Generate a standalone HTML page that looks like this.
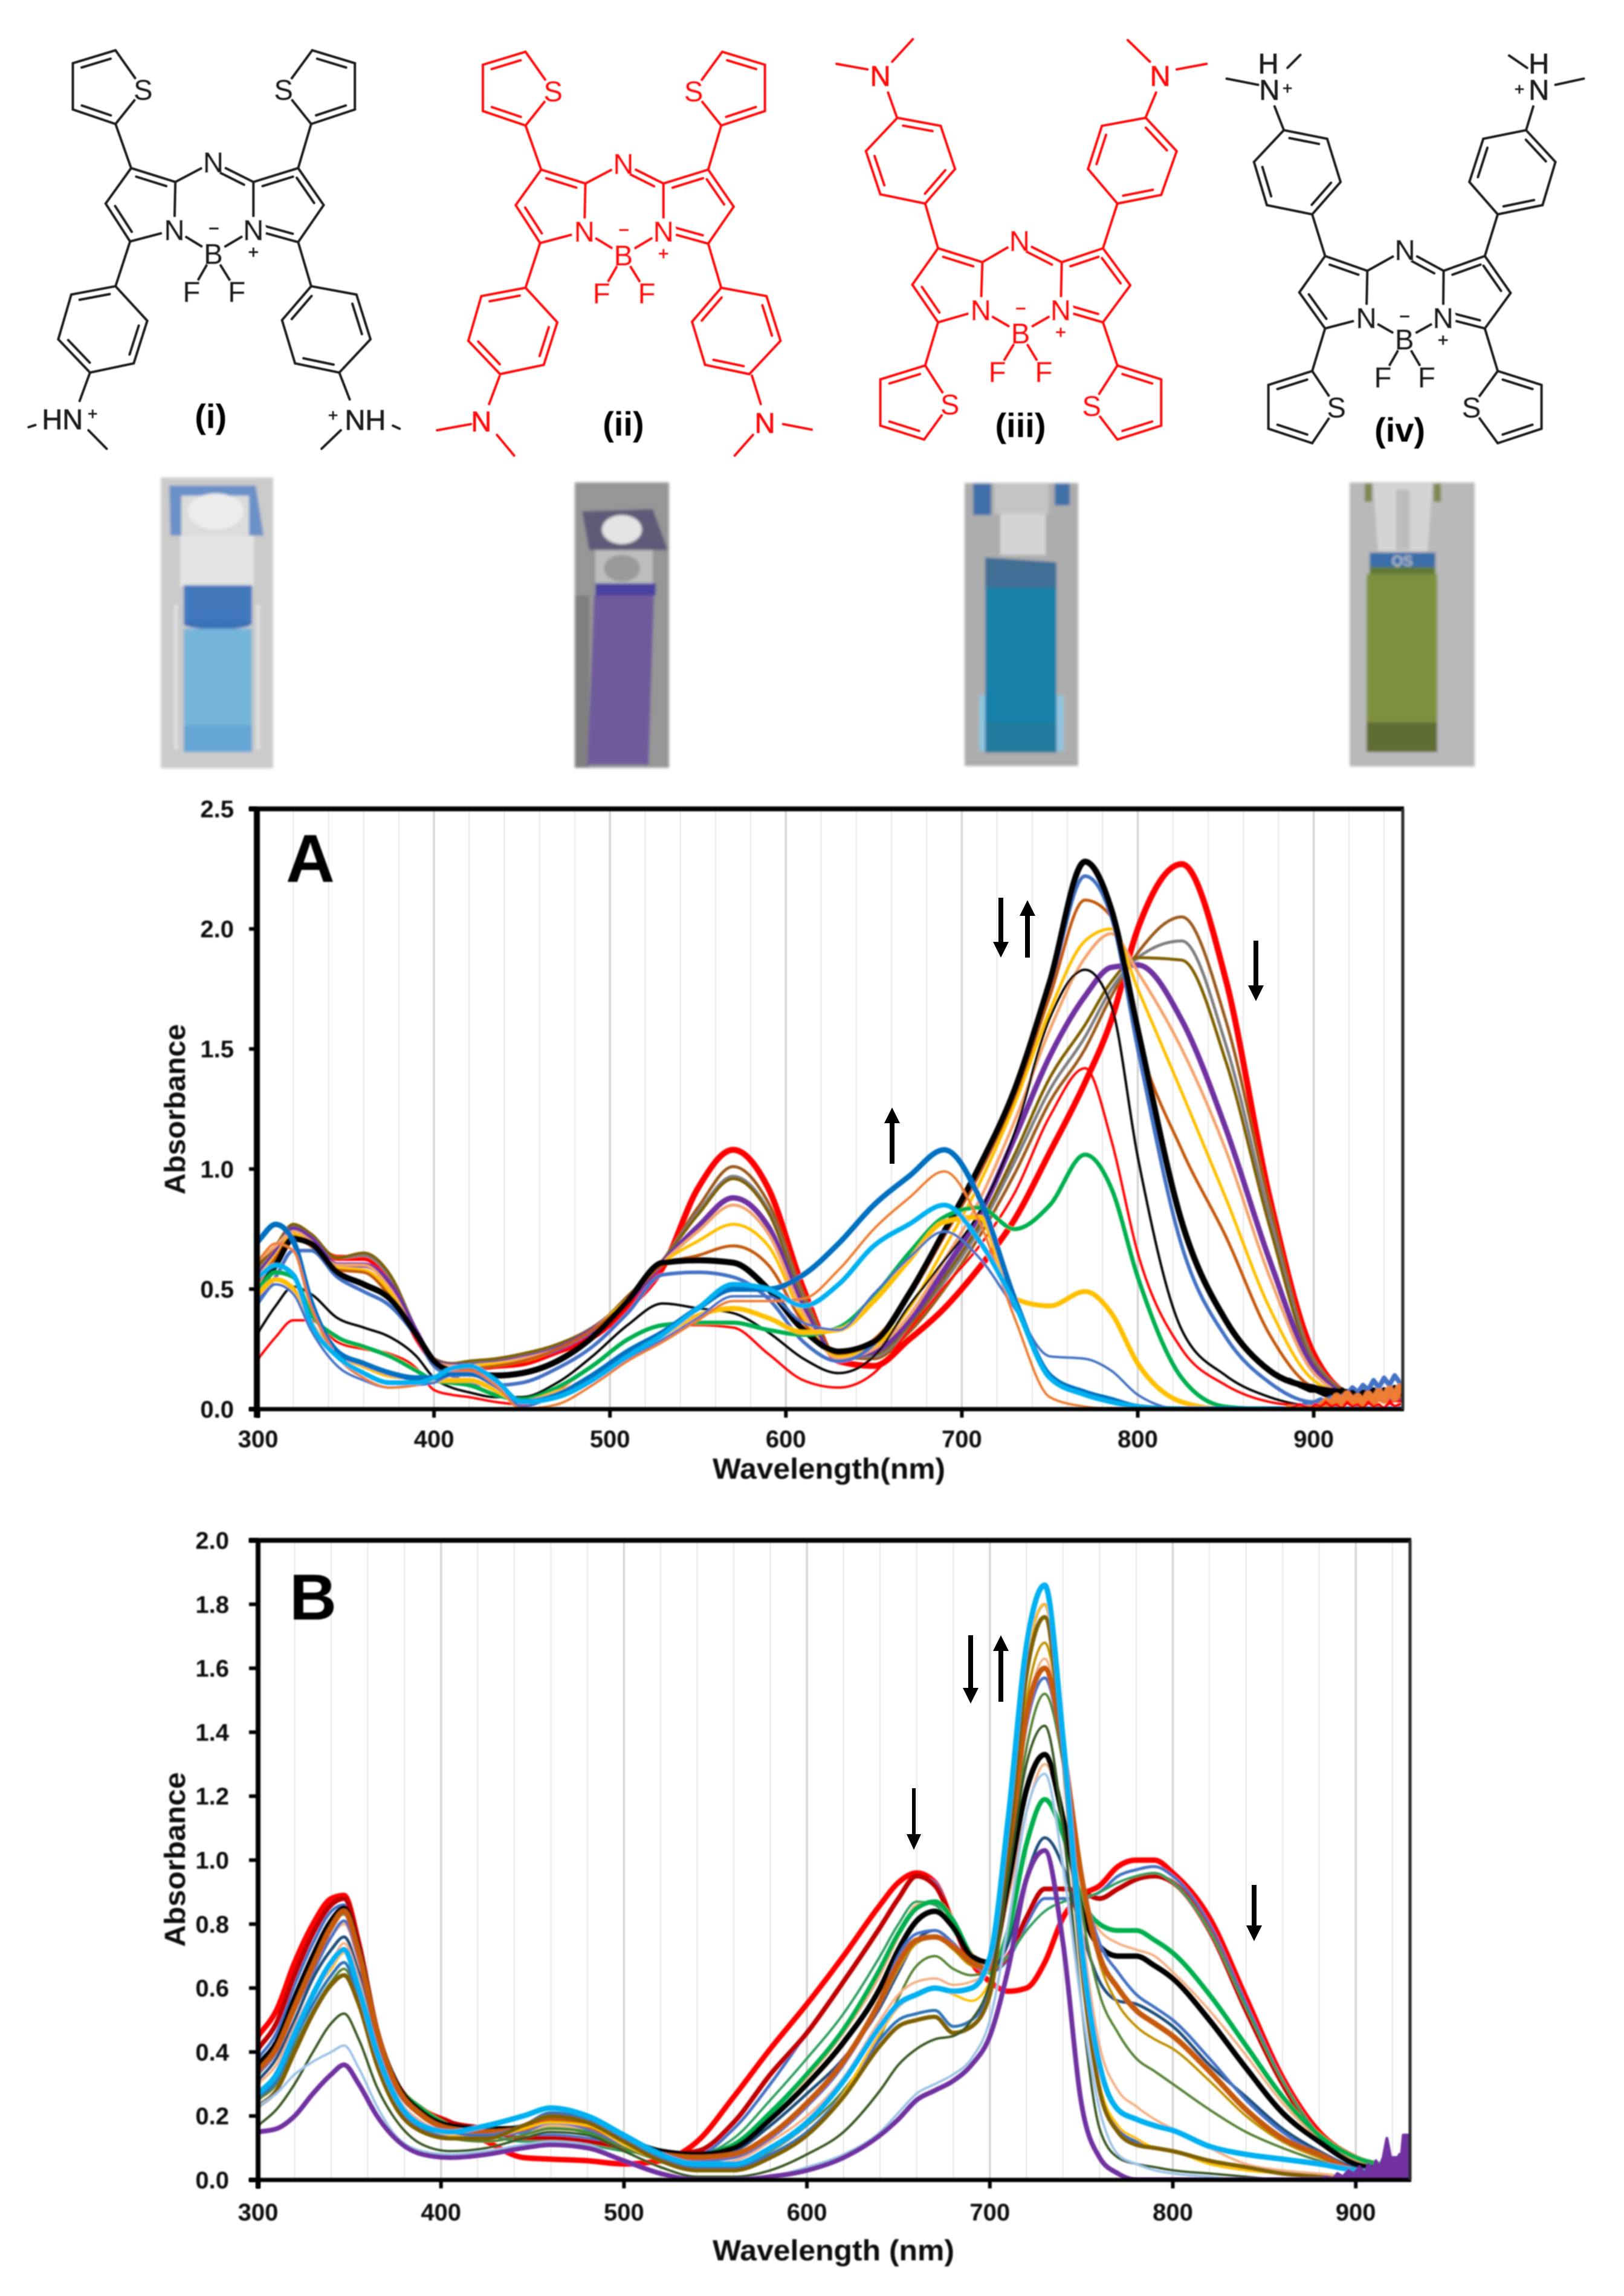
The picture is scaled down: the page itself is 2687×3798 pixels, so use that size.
<!DOCTYPE html>
<html lang="en">
<head>
<meta charset="utf-8">
<title>Aza-BODIPY structures and absorbance spectra</title>
<style>
html,body{margin:0;padding:0;background:#fff;width:2687px;height:3798px;overflow:hidden}
svg{display:block;font-family:"Liberation Sans",Arial,sans-serif}
</style>
</head>
<body>
<svg id="figure" width="2687" height="3798" viewBox="0 0 2687 3798">
<defs>
<filter id="soft" x="-5%" y="-5%" width="110%" height="110%"><feGaussianBlur stdDeviation="1"/></filter>
<filter id="fine" x="-5%" y="-5%" width="110%" height="110%"><feGaussianBlur stdDeviation="0.7"/></filter>
<filter id="softer" x="-5%" y="-5%" width="110%" height="110%"><feGaussianBlur stdDeviation="2.5"/></filter>
<clipPath id="clipA"><rect x="425" y="1338" width="1896" height="993"/></clipPath>
<clipPath id="clipB"><rect x="427" y="2548" width="1906" height="1058"/></clipPath>
</defs>
<rect width="2687" height="3798" fill="#fff"/>

<g id="molecules" filter="url(#fine)"></g>

<g filter="url(#softer)">
 <g>
  <rect x="266" y="790" width="186" height="481" fill="#cbcbcb"/>
  <polygon points="280,803 423,803 436,886 282,886" fill="#6c90c8"/>
  <rect x="300" y="820" width="112" height="66" fill="#dcdcdc"/>
  <ellipse cx="357" cy="846" rx="46" ry="30" fill="#ececec"/>
  <rect x="298" y="886" width="122" height="84" fill="#e4e4e4"/>
  <rect x="304" y="968" width="113" height="64" fill="#4279bd"/>
  <ellipse cx="360" cy="1032" rx="56" ry="9" fill="#3a72b8"/>
  <rect x="304" y="1040" width="113" height="160" fill="#74b5d9"/>
  <rect x="304" y="1200" width="113" height="44" fill="#66a6d6"/>
  <rect x="288" y="1000" width="6" height="240" fill="#e0e0e0"/>
  <rect x="424" y="1000" width="6" height="240" fill="#e0e0e0"/>
 </g>
 <g>
  <rect x="951" y="798" width="156" height="472" fill="#969696"/>
  <rect x="951" y="985" width="24" height="285" fill="#7f7f7f"/>
  <polygon points="963,846 1080,842 1105,910 975,910" fill="#5e5a78"/>
  <ellipse cx="1029" cy="876" rx="33" ry="24" fill="#e4e4e4"/>
  <rect x="985" y="910" width="95" height="55" fill="#bdbdbd"/>
  <ellipse cx="1029" cy="940" rx="30" ry="22" fill="#9a9a9a"/>
  <rect x="985" y="965" width="100" height="20" fill="#4a3f9f"/>
  <polygon points="983,985 1082,985 1073,1265 972,1265" fill="#6f5a9c"/>
 </g>
 <g>
  <rect x="1596" y="799" width="188" height="468" fill="#adadad"/>
  <rect x="1610" y="800" width="30" height="52" fill="#3f6fa8"/>
  <rect x="1745" y="800" width="25" height="36" fill="#3f6fa8"/>
  <rect x="1645" y="800" width="90" height="50" fill="#c4c4c4"/>
  <rect x="1655" y="850" width="75" height="68" fill="#d4d4d4"/>
  <rect x="1620" y="1150" width="140" height="92" fill="#8fc5de"/>
  <polygon points="1630,922 1748,930 1748,975 1630,975" fill="#3f6e95"/>
  <rect x="1630" y="972" width="118" height="225" fill="#1880a8"/>
  <rect x="1630" y="1195" width="118" height="50" fill="#237a9c"/>
 </g>
 <g>
  <rect x="2233" y="798" width="207" height="470" fill="#b9b9b9"/>
  <rect x="2258" y="800" width="12" height="30" fill="#7c8a50"/>
  <rect x="2372" y="800" width="12" height="30" fill="#7c8a50"/>
  <polygon points="2272,800 2370,800 2362,912 2280,912" fill="#d4d4d4"/>
  <rect x="2310" y="810" width="22" height="100" fill="#bcbcbc"/>
  <rect x="2266" y="914" width="109" height="26" fill="#3a6ea8"/>
  <text x="2320" y="936" font-size="24" fill="#d8d8d8" text-anchor="middle">QS</text>
  <rect x="2266" y="938" width="109" height="14" fill="#5f7a30"/>
  <rect x="2261" y="950" width="117" height="245" fill="#7f9140"/>
  <rect x="2261" y="1195" width="117" height="49" fill="#5f6c30"/>
 </g>
</g>

<g id="chartA"></g>
<g id="chartB"></g>

<g fill="#000">
 <path d="M1652 1485H1660V1558H1669L1656 1584L1643 1558H1652Z"/>
 <path d="M1696 1584H1704V1515H1713L1700 1489L1687 1515H1696Z"/>
 <path d="M2074 1556H2082V1630H2091L2078 1656L2065 1630H2074Z"/>
 <path d="M1472 1925H1480V1858H1489L1476 1832L1463 1858H1472Z"/>
</g>
<g fill="#000">
 <path d="M1602 2705H1610V2792H1619L1606 2818L1593 2792H1602Z"/>
 <path d="M1652 2815H1660V2731H1669L1656 2705L1643 2731H1652Z"/>
 <path d="M1509 2958H1515V3034H1524L1512 3060L1500 3034H1509Z"/>
 <path d="M2071 3118H2079V3185H2088L2075 3211L2062 3185H2071Z"/>
</g>
</svg>

<script>
/* ---------- Chart A data ---------- */
const wavelengthsA=[300,310,320,330,345,360,375,390,400,410,420,435,450,470,490,510,530,550,570,590,610,630,650,670,690,710,730,750,770,785,800,825,850,875,900,925,950];
const aRedThick=[.57,.66,.74,.70,.63,.63,.53,.30,.20,.17,.17,.18,.19,.24,.30,.42,.59,.92,1.08,.92,.50,.20,.18,.29,.42,.59,.79,1.07,1.36,1.62,2.00,2.27,1.79,.88,.23,.05,.04];
const aBrown=[.60,.68,.77,.72,.63,.64,.55,.33,.21,.19,.19,.20,.22,.26,.33,.47,.62,.84,1.01,.86,.48,.22,.21,.32,.50,.72,.98,1.28,1.50,1.72,1.90,2.05,1.62,.85,.21,.06,.05];
const aGray=[.58,.66,.76,.72,.63,.64,.55,.33,.21,.19,.19,.20,.22,.26,.33,.46,.62,.82,.97,.83,.46,.22,.22,.34,.53,.75,1.03,1.33,1.55,1.75,1.88,1.95,1.52,.80,.20,.06,.05];
const aOlive=[.60,.68,.77,.73,.63,.65,.56,.33,.21,.19,.20,.21,.23,.27,.34,.46,.62,.81,.96,.82,.45,.23,.23,.35,.55,.77,1.06,1.38,1.60,1.78,1.88,1.87,1.45,.76,.19,.06,.05];
const aPurple=[.56,.65,.75,.71,.60,.60,.52,.32,.20,.18,.18,.19,.21,.25,.33,.45,.61,.76,.88,.76,.42,.22,.24,.37,.58,.81,1.13,1.47,1.72,1.84,1.85,1.62,1.17,.62,.17,.05,.05];
const aLightOrange=[.62,.68,.74,.70,.60,.60,.50,.31,.20,.18,.18,.19,.21,.25,.33,.46,.61,.74,.85,.73,.40,.21,.25,.39,.62,.87,1.20,1.58,1.88,1.98,1.82,1.50,1.08,.55,.15,.05,.05];
const aYellow=[.55,.64,.73,.69,.59,.58,.49,.30,.20,.17,.18,.19,.20,.25,.33,.46,.61,.70,.77,.68,.38,.22,.26,.42,.67,.94,1.27,1.66,1.95,2.00,1.75,1.32,.88,.42,.12,.05,.05];
const aOrangeBrown=[.53,.63,.72,.68,.58,.57,.47,.30,.19,.17,.17,.18,.20,.25,.33,.45,.60,.64,.68,.60,.36,.23,.29,.47,.72,.98,1.30,1.72,2.12,2.05,1.55,1.08,.72,.31,.09,.05,.05];
const aBlue=[.45,.55,.66,.66,.55,.49,.43,.30,.18,.14,.11,.10,.11,.17,.26,.40,.56,.57,.55,.46,.28,.20,.27,.48,.73,1.00,1.32,1.76,2.22,2.05,1.50,.68,.30,.11,.03,.05,.09];
const aBlackThick=[.49,.60,.71,.69,.57,.52,.46,.31,.20,.16,.15,.14,.15,.20,.30,.45,.61,.62,.61,.50,.33,.24,.28,.48,.74,1.01,1.33,1.78,2.28,2.08,1.58,.78,.37,.16,.09,.07,.07];
const aBlackThin=[.32,.43,.51,.48,.38,.34,.30,.22,.13,.09,.07,.05,.05,.11,.22,.35,.44,.42,.40,.32,.21,.15,.22,.43,.62,.82,1.15,1.63,1.83,1.68,1.05,.33,.14,.05,.01,0,0];
const aRedThin=[.21,.30,.37,.37,.28,.25,.23,.17,.08,.06,.05,.03,.02,.08,.18,.29,.35,.35,.34,.23,.12,.09,.15,.33,.51,.68,.90,1.22,1.42,1.12,.65,.25,.10,.03,.01,0,0];
const aGreen=[.50,.57,.55,.40,.30,.26,.22,.16,.12,.11,.10,.06,.04,.09,.18,.29,.35,.36,.36,.33,.31,.34,.47,.65,.80,.84,.75,.85,1.06,.92,.55,.13,.01,0,0,0,0];
const aGold=[.48,.54,.50,.36,.23,.18,.14,.13,.12,.12,.12,.08,.03,.07,.13,.23,.31,.39,.42,.38,.32,.33,.45,.62,.78,.80,.46,.43,.49,.40,.19,.03,0,0,0,0,0];
const aBlueThin=[.44,.52,.48,.33,.18,.12,.09,.10,.11,.14,.14,.10,.01,.06,.12,.21,.29,.38,.47,.47,.36,.33,.48,.63,.74,.63,.42,.22,.21,.16,.06,0,0,0,0,0,0];
const aBlueThick=[.70,.77,.70,.45,.24,.19,.15,.13,.13,.15,.15,.10,.03,.06,.14,.24,.32,.42,.50,.50,.56,.69,.85,.97,1.08,.88,.46,.14,.07,.04,.01,0,0,0,0,0,0];
const aOrange=[.62,.69,.66,.43,.22,.13,.09,.10,.13,.16,.16,.10,0,.02,.10,.20,.28,.37,.45,.45,.46,.58,.75,.88,.99,.78,.38,.05,.01,0,0,0,0,0,0,0,0];
const aCyan=[.55,.60,.56,.36,.22,.15,.11,.11,.13,.17,.18,.12,.03,.05,.12,.22,.31,.42,.52,.50,.43,.52,.68,.77,.85,.70,.44,.13,.06,.03,.01,0,0,0,0,0,0];
const tailWavelengthsA=[886,889,892,895,898,901,904,907,910,913,916,919,922,925,928,931,934,937,940,943,946,949];
const aTailBlue=[0,.01,.01,.02,.01,.03,.04,.03,.06,.05,.07,.06,.09,.07,.10,.08,.12,.09,.13,.10,.14,.11];
const aTailBlack=[.12,.11,.10,.09,.08,.08,.07,.06,.07,.06,.08,.06,.07,.05,.07,.06,.08,.06,.08,.07,.09,.07];
const aTailOrange=[0,0,0,0,0,0,.01,.03,.02,.05,.03,.06,.03,.05,.02,.06,.03,.07,.04,.08,.05,.09];
const aTailRed=[0,.01,.02,.01,0,.02,.01,.03,.01,.02,0,.03,.01,.02,0,.03,.01,.02,0,.03,.01,.02];
const xTicksA=[300,400,500,600,700,800,900];
const yTicksA=['0.0','0.5','1.0','1.5','2.0','2.5'];

/* ---------- Chart B data ---------- */
const wavelengthsB=[300,310,320,330,340,347,355,365,375,390,405,425,445,460,480,500,520,540,560,580,600,620,640,650,660,670,680,690,700,710,720,730,740,750,760,770,780,790,800,820,840,860,880,900,920];
const bRedThick=[.45,.53,.68,.80,.88,.89,.74,.46,.31,.22,.18,.12,.07,.065,.06,.05,.06,.12,.26,.41,.55,.70,.86,.93,.96,.93,.80,.68,.62,.59,.60,.68,.82,.89,.92,.98,1.0,1.0,.96,.82,.57,.32,.15,.07,.04];
const bBlueUpper=[.38,.46,.61,.74,.84,.86,.72,.46,.31,.22,.18,.15,.13,.14,.13,.11,.08,.08,.16,.30,.46,.62,.79,.88,.95,.93,.80,.68,.65,.69,.80,.88,.88,.88,.90,.95,.97,.98,.95,.80,.55,.31,.14,.06,.04];
const bDarkRed=[.41,.49,.64,.77,.86,.88,.74,.47,.31,.22,.18,.16,.13,.13,.12,.10,.08,.09,.18,.33,.46,.62,.79,.88,.95,.92,.80,.68,.66,.70,.82,.91,.91,.90,.88,.91,.94,.95,.93,.78,.53,.30,.13,.06,.03];
const bGreenThin=[.36,.43,.57,.70,.80,.83,.69,.44,.30,.21,.17,.14,.12,.12,.11,.09,.08,.08,.13,.25,.38,.52,.70,.80,.87,.86,.78,.70,.66,.70,.78,.84,.87,.88,.90,.93,.95,.96,.93,.78,.54,.31,.14,.06,.03];
const bPeach=[.33,.40,.53,.66,.76,.80,.68,.44,.30,.21,.17,.15,.15,.18,.16,.12,.08,.08,.11,.21,.32,.46,.64,.76,.86,.87,.80,.71,.66,.88,1.15,1.30,1.15,.88,.78,.74,.72,.70,.65,.53,.39,.24,.13,.06,.04];
const bGreenThick=[.35,.42,.56,.69,.79,.84,.71,.46,.31,.22,.17,.15,.15,.17,.15,.11,.08,.08,.11,.21,.33,.47,.66,.77,.85,.87,.81,.70,.65,.78,1.05,1.19,1.08,.88,.80,.78,.78,.75,.71,.58,.42,.26,.14,.07,.04];
const bNavy=[.31,.38,.50,.63,.72,.76,.65,.43,.29,.20,.16,.16,.17,.20,.18,.13,.09,.07,.09,.17,.27,.38,.54,.65,.75,.78,.74,.68,.66,.74,.95,1.07,.98,.78,.62,.56,.55,.52,.48,.36,.26,.16,.09,.04,.03];
const bBlackThick=[.36,.43,.57,.70,.81,.85,.72,.46,.31,.21,.17,.16,.16,.19,.17,.13,.09,.08,.10,.19,.30,.43,.60,.72,.81,.84,.79,.70,.68,.92,1.22,1.33,1.13,.85,.73,.70,.70,.67,.63,.50,.35,.21,.12,.05,.03];
const bMedGreen=[.25,.30,.42,.53,.62,.66,.56,.37,.24,.16,.13,.12,.14,.16,.15,.10,.06,.03,.04,.09,.17,.28,.45,.57,.67,.70,.66,.64,.66,.95,1.35,1.52,1.30,.85,.58,.46,.38,.34,.30,.22,.15,.10,.06,.03,.02];
const bLightPeach=[.30,.36,.48,.59,.68,.74,.63,.41,.27,.18,.15,.14,.15,.17,.16,.11,.07,.05,.06,.12,.20,.32,.50,.58,.62,.63,.61,.62,.66,1.00,1.45,1.63,1.35,.80,.42,.28,.23,.19,.16,.10,.05,.03,.02,.01,.01];
const bGold=[.33,.40,.53,.66,.78,.84,.71,.46,.30,.20,.16,.15,.16,.18,.17,.12,.08,.07,.08,.14,.24,.37,.55,.66,.74,.76,.72,.67,.66,1.00,1.50,1.68,1.38,.95,.68,.55,.48,.44,.41,.31,.20,.12,.07,.03,.02];
const bBlueMid=[.33,.40,.53,.65,.76,.81,.69,.45,.29,.20,.16,.14,.15,.18,.16,.11,.07,.06,.07,.13,.23,.36,.56,.70,.77,.78,.74,.68,.66,1.00,1.42,1.57,1.33,.95,.74,.65,.58,.54,.50,.38,.25,.15,.08,.03,.02];
const bOrangeBrown=[.34,.41,.54,.67,.79,.84,.71,.46,.30,.20,.16,.15,.16,.19,.17,.12,.08,.07,.08,.14,.24,.37,.56,.68,.75,.76,.73,.68,.66,1.00,1.45,1.60,1.35,.95,.70,.60,.53,.49,.45,.34,.22,.13,.08,.03,.02];
const bBlueDark=[.26,.31,.44,.55,.64,.68,.57,.38,.25,.16,.14,.14,.17,.21,.19,.13,.07,.04,.04,.08,.15,.27,.44,.50,.52,.53,.48,.50,.60,1.05,1.62,1.80,1.36,.70,.28,.16,.12,.10,.09,.06,.04,.02,.01,0,0];
const bYellow=[.28,.33,.46,.58,.66,.71,.60,.40,.26,.17,.14,.13,.16,.18,.17,.11,.06,.03,.03,.07,.14,.27,.46,.54,.58,.60,.58,.56,.62,1.05,1.62,1.80,1.36,.72,.30,.17,.13,.10,.09,.05,.03,.02,.01,0,0];
const bOlive=[.23,.28,.40,.52,.61,.64,.55,.36,.23,.15,.13,.13,.17,.20,.18,.12,.06,.03,.03,.07,.14,.26,.42,.48,.50,.51,.46,.48,.58,1.02,1.58,1.76,1.33,.68,.28,.15,.11,.10,.09,.06,.04,.02,.01,0,0];
const bDarkGreen=[.17,.22,.30,.40,.49,.52,.44,.29,.19,.11,.09,.10,.13,.15,.14,.09,.04,.01,.01,.03,.08,.15,.28,.36,.41,.44,.45,.50,.62,.95,1.30,1.42,1.10,.55,.16,.07,.05,.04,.03,.02,.01,0,0,0,0];
const bLightBlue=[.23,.27,.33,.37,.40,.42,.35,.23,.14,.09,.08,.09,.11,.12,.11,.06,.02,0,0,.01,.04,.08,.15,.21,.27,.30,.33,.38,.50,.80,1.15,1.27,.98,.55,.22,.08,.05,.03,.02,.01,0,0,0,0,0];
const bCyan=[.27,.33,.46,.58,.68,.72,.60,.40,.26,.17,.15,.17,.20,.225,.20,.14,.08,.05,.05,.10,.18,.31,.48,.55,.58,.60,.59,.60,.695,1.13,1.67,1.86,1.38,.74,.36,.22,.19,.17,.155,.105,.08,.065,.05,.03,.02];
const bPurple=[.15,.16,.20,.27,.33,.36,.30,.20,.13,.08,.07,.08,.10,.11,.10,.06,.02,0,0,.01,.03,.07,.14,.19,.25,.28,.31,.36,.45,.66,.94,1.03,.74,.24,.07,.02,0,0,0,0,0,0,0,0,0];
const tailWavelengthsB=[880,884,887,890,893,896,899,902,905,907,909,911,913,915,917,919,920,921,922,923,924,925,926,927,928,929,930];
const bTailPurple=[0,.01,0,.02,.01,.03,.02,.04,.02,.05,.03,.06,.04,.07,.13,.07,.07,.07,.07,.07,.08,.08,.14,.14,.14,.14,.14];
const xTicksB=[300,400,500,600,700,800,900];
const yTicksB=['0.0','0.2','0.4','0.6','0.8','1.0','1.2','1.4','1.6','1.8','2.0'];

/* ---------- Helpers ---------- */
const SVGNS='http://www.w3.org/2000/svg';
function mk(tag,attrs,parent,txt){
  const e=document.createElementNS(SVGNS,tag);
  for(const k in attrs)e.setAttribute(k,attrs[k]);
  if(txt!==undefined)e.textContent=txt;
  parent.appendChild(e);
  return e;
}
function smooth(xs,ys){
  const n=xs.length,m=[],t=[];
  for(let i=0;i<n-1;i++)m.push((ys[i+1]-ys[i])/(xs[i+1]-xs[i]));
  t[0]=m[0];t[n-1]=m[n-2];
  for(let i=1;i<n-1;i++){
    if(m[i-1]*m[i]<=0){t[i]=0;continue;}
    const h0=xs[i]-xs[i-1],h1=xs[i+1]-xs[i];
    const p=(m[i-1]*h1+m[i]*h0)/(h0+h1);
    t[i]=Math.sign(m[i])*Math.min(Math.abs(m[i-1])*2,Math.abs(m[i])*2,Math.abs(p));
  }
  let d='M'+xs[0].toFixed(1)+' '+ys[0].toFixed(1);
  for(let i=0;i<n-1;i++){
    const h=(xs[i+1]-xs[i])/3;
    d+='C'+(xs[i]+h).toFixed(1)+' '+(ys[i]+t[i]*h).toFixed(1)+' '+(xs[i+1]-h).toFixed(1)+' '+(ys[i+1]-t[i+1]*h).toFixed(1)+' '+xs[i+1].toFixed(1)+' '+ys[i+1].toFixed(1);
  }
  return d;
}
function polyPath(xs,ys){
  return xs.map((x,i)=>(i?'L':'M')+x.toFixed(1)+' '+ys[i].toFixed(1)).join('');
}

/* ---------- Chart drawing ---------- */
function drawChart(c){
  const root=document.getElementById(c.id);
  const grid=mk('g',{},root);
  
  
  for(let w=320;w<=c.xMax;w+=20){
    const major=w%100===0;
    const ln=mk('line',{x1:c.x(w),x2:c.x(w),y1:c.top,y2:c.bottom,stroke:major?'#dcdcdc':'#f0f0f0','stroke-width':major?4:3},grid);
    
    
  }
  const plot=mk('g',{'clip-path':'url(#'+c.clip+')',fill:'none','stroke-linejoin':'round','stroke-linecap':'round'},root);
  
  
  const blur=mk('g',{filter:'url(#soft)'},plot);
  c.series.forEach(s=>{
    const p=mk('path',{d:smooth(c.wl.map(c.x),s.v.map(c.y)),stroke:s.c,'stroke-width':s.w},blur);
    
    
  });
  c.tails.forEach(s=>{
    const xs=s.wl.map(c.x),ys=s.v.map(c.y);
    let d=polyPath(xs,ys);
    const attrs={stroke:s.c,'stroke-width':s.w};
    if(s.fill){
      d+='L'+xs[xs.length-1].toFixed(1)+' '+c.bottom+'L'+xs[0].toFixed(1)+' '+c.bottom+'Z';
      attrs.fill=s.c;
    }
    attrs.d=d;
    const p=mk('path',attrs,blur);
    
    
  });
  const frame=mk('g',{stroke:'#000',filter:'url(#soft)'},root);
  
  
  mk('line',{x1:412,x2:c.right+2,y1:c.top,y2:c.top,'stroke-width':8},frame);
  mk('line',{x1:c.left,x2:c.left,y1:c.top,y2:c.bottom+14,'stroke-width':c.leftW},frame);
  mk('line',{x1:412,x2:c.right+2,y1:c.bottom,y2:c.bottom,'stroke-width':7},frame);
  mk('line',{x1:c.right,x2:c.right,y1:c.top,y2:c.bottom,'stroke-width':5,stroke:'#2a2a2a'},frame);
  const labels=mk('g',{fill:'#111','font-weight':'bold','font-size':40,filter:'url(#soft)'},root);
  
  
  c.yTicks.forEach(t=>{
    const yy=c.y(parseFloat(t));
    const tick=mk('line',{x1:412,x2:c.left,y1:yy,y2:yy,stroke:'#000','stroke-width':6},labels);
    
    
    const tx=mk('text',{x:c.yLabelX,y:yy+14,'text-anchor':'end'},labels,t);
    
    
  });
  c.xTicks.forEach(t=>{
    const xx=c.x(t);
    const tick=mk('line',{x1:xx,x2:xx,y1:c.bottom,y2:c.bottom+14,stroke:'#000','stroke-width':6},labels);
    
    
    const tx=mk('text',{x:xx,y:c.xLabelY,'text-anchor':'middle'},labels,String(t));
    
    
  });
  const xt=mk('text',{x:c.xTitleX,y:c.xTitleY,'font-size':48,'textLength':c.xTitleLen,lengthAdjust:'spacingAndGlyphs'},labels,c.xTitle);
  
  
  const yt=mk('text',{transform:'translate(306 '+c.yTitleC+') rotate(-90)','text-anchor':'middle','font-size':48,'textLength':c.yTitleLen,lengthAdjust:'spacingAndGlyphs'},labels,'Absorbance');
  
  
  const pl=mk('text',{x:c.panelX,y:c.panelY,'font-size':c.panelSize,fill:'#000'},labels,c.key==='chart-a'?'A':'B');
  
  
}
const xA=w=>427+(w-300)*2.911;
const yA=v=>2331-v*397.2;
const xB=w=>427+(w-300)*3.027;
const yB=v=>3606-v*529;

drawChart({id:'chartA',key:'chart-a',clip:'clipA',x:xA,y:yA,wl:wavelengthsA,top:1338,bottom:2331,left:425,leftW:10,right:2321,xMax:940,
  yLabelX:387,xLabelY:2394,xTitle:'Wavelength(nm)',xTitleX:1179,xTitleY:2446,xTitleLen:385,yTitleC:1835,yTitleLen:282,panelX:473,panelY:1459,panelSize:112,
  xTicks:xTicksA,yTicks:yTicksA,
  series:[
   {n:'red-thick',v:aRedThick,c:'#ff0000',w:10},{n:'brown',v:aBrown,c:'#9c5a1e',w:5},{n:'gray',v:aGray,c:'#7f7f7f',w:5},
   {n:'olive',v:aOlive,c:'#7f6000',w:5},{n:'purple',v:aPurple,c:'#7030a0',w:9},{n:'light-orange',v:aLightOrange,c:'#f4a46e',w:5},
   {n:'yellow',v:aYellow,c:'#ffc000',w:5},{n:'orange-brown',v:aOrangeBrown,c:'#c55a11',w:5},{n:'blue',v:aBlue,c:'#4472c4',w:6},
   {n:'black-thick',v:aBlackThick,c:'#000000',w:10},{n:'black-thin',v:aBlackThin,c:'#000000',w:4},{n:'red-thin',v:aRedThin,c:'#ff0000',w:4},
   {n:'green',v:aGreen,c:'#00b050',w:7},{n:'gold',v:aGold,c:'#ffc000',w:8},{n:'blue-thin',v:aBlueThin,c:'#4472c4',w:4},
   {n:'blue-thick',v:aBlueThick,c:'#0070c0',w:9},{n:'orange',v:aOrange,c:'#ed7d31',w:4},{n:'cyan',v:aCyan,c:'#00b0f0',w:8}
  ],
  tails:[
   {n:'blue',wl:tailWavelengthsA,v:aTailBlue,c:'#4472c4',w:8},{n:'black',wl:tailWavelengthsA,v:aTailBlack,c:'#000000',w:9},
   {n:'orange',wl:tailWavelengthsA,v:aTailOrange,c:'#ed7d31',w:14},{n:'red',wl:tailWavelengthsA,v:aTailRed,c:'#ff0000',w:5}
  ]});

drawChart({id:'chartB',key:'chart-b',clip:'clipB',x:xB,y:yB,wl:wavelengthsB,top:2548,bottom:3606,left:427,leftW:8,right:2333,xMax:920,
  yLabelX:379,xLabelY:3673,xTitle:'Wavelength (nm)',xTitleX:1179,xTitleY:3739,xTitleLen:400,yTitleC:3076,yTitleLen:289,panelX:479,panelY:2679,panelSize:108,
  xTicks:xTicksB,yTicks:yTicksB,
  series:[
   {n:'red-thick',v:bRedThick,c:'#ff0000',w:9},{n:'blue-upper',v:bBlueUpper,c:'#4472c4',w:5},{n:'dark-red',v:bDarkRed,c:'#c00000',w:8},
   {n:'green-thin',v:bGreenThin,c:'#2e9e5f',w:4},{n:'peach',v:bPeach,c:'#f4b183',w:4},{n:'green-thick',v:bGreenThick,c:'#00b050',w:8},
   {n:'navy',v:bNavy,c:'#1f4e79',w:5},{n:'black-thick',v:bBlackThick,c:'#000000',w:9},{n:'med-green',v:bMedGreen,c:'#548235',w:4},
   {n:'light-peach',v:bLightPeach,c:'#f4b183',w:4},{n:'gold',v:bGold,c:'#bf9000',w:4},{n:'blue-mid',v:bBlueMid,c:'#4472c4',w:5},
   {n:'orange-brown',v:bOrangeBrown,c:'#c55a11',w:9},{n:'blue-dark',v:bBlueDark,c:'#2e75b6',w:5},{n:'yellow',v:bYellow,c:'#ffc000',w:4},
   {n:'olive',v:bOlive,c:'#7f6000',w:7},{n:'dark-green',v:bDarkGreen,c:'#375623',w:4},{n:'light-blue',v:bLightBlue,c:'#9dc3e6',w:4},
   {n:'cyan',v:bCyan,c:'#00b0f0',w:9},{n:'purple',v:bPurple,c:'#7030a0',w:8}
  ],
  tails:[{n:'purple',wl:tailWavelengthsB,v:bTailPurple,c:'#7030a0',w:5,fill:true}]});

/* ---------- Molecule drawing ---------- */
function drawMolecule(m){
  const root=document.getElementById('molecules');
  const g=mk('g',{},root);
  
  
  const sh=m.shift||[0,0];
  const R=p=>[m.ox+p[0]/m.sx,p[1]/1.96];
  const S=p=>R([p[0]+sh[0],p[1]+sh[1]]);
  const sw=4;
  function bond(a,b){
    const l=mk('line',{x1:a[0],y1:a[1],x2:b[0],y2:b[1],stroke:m.color,'stroke-width':sw,'stroke-linecap':'round'},g);
    
    
  }
  function dbl(a,b,c){
    bond(a,b);
    const mx=(a[0]+b[0])/2,my=(a[1]+b[1])/2;
    let nx=-(b[1]-a[1]),ny=b[0]-a[0];
    const len=Math.hypot(nx,ny);nx/=len;ny/=len;
    if((c[0]-mx)*nx+(c[1]-my)*ny<0){nx=-nx;ny=-ny;}
    const off=11,k=0.16;
    const p=[a[0]+(b[0]-a[0])*k+nx*off,a[1]+(b[1]-a[1])*k+ny*off];
    const q=[b[0]+(a[0]-b[0])*k+nx*off,b[1]+(a[1]-b[1])*k+ny*off];
    bond(p,q);
  }
  const avg=pts=>[pts.reduce((s,p)=>s+p[0],0)/pts.length,pts.reduce((s,p)=>s+p[1],0)/pts.length];
  function ring(pts,parity,attachTo){
    const P=pts.map(S);
    bond(attachTo,P[0]);
    const c=avg(P);
    if(P.length===5){
      dbl(P[0],P[1],c);bond(P[1],P[2]);dbl(P[2],P[3],c);bond(P[3],P[4]);bond(P[4],P[0]);
      atoms.push([P[4],'S']);
    }else{
      for(let i=0;i<6;i++){
        const a=P[i],b=P[(i+1)%6];
        if(i%2===parity)dbl(a,b,c);else bond(a,b);
      }
    }
  }
  const atoms=[];
  const N=S(m.N),C1=S(m.C1),C2=S(m.C2),NL=S(m.NL),NR=S(m.NR),B=S(m.B),FL=S(m.FL),FR=S(m.FR);
  const pl=m.pl.map(S),pr=m.pr.map(S);
  const cc=avg([N,C1,C2,NL,NR,B]),cl=avg([C1,NL,...pl]),cr=avg([C2,NR,...pr]);
  bond(C1,N);dbl(N,C2,cc);bond(C1,NL);bond(C2,NR);bond(NL,B);bond(NR,B);bond(B,FL);bond(B,FR);
  dbl(C1,pl[0],cl);bond(pl[0],pl[1]);dbl(pl[1],pl[2],cl);bond(pl[2],NL);
  dbl(C2,pr[0],cr);dbl(pr[0],pr[1],cr);bond(pr[1],pr[2]);dbl(pr[2],NR,cr);
  ring(m.tl,m.parity[0],pl[0]);ring(m.tr,m.parity[1],pr[0]);
  ring(m.bl,m.parity[2],pl[2]);ring(m.br,m.parity[3],pr[2]);
  m.lines.forEach(l=>bond(R([l[0],l[1]]),R([l[2],l[3]])));
  atoms.push([N,'N'],[NL,'N'],[NR,'N'],[B,'B'],[FL,'F'],[FR,'F']);
  atoms.forEach(a=>{
    mk('circle',{cx:a[0][0],cy:a[0][1],r:21,fill:'#fff'},g);
  });
  function label(p,t,size){
    const e=mk('text',{x:p[0],y:p[1]+size*0.36,'font-size':size,'text-anchor':'middle',fill:m.color,stroke:m.color,'stroke-width':0.8},g,t);
    
    
  }
  atoms.forEach(a=>label(a[0],a[1],47));
  label([(NL[0]+NR[0])/2,NR[1]-3],'\u2212',30);
  label([NR[0],NR[1]+36],'+',30);
  m.texts.forEach(t=>label(R([t[1],t[2]]),t[0],t[3]||47));
  const lb=R(m.labelAt);
  const lab=mk('text',{x:lb[0],y:lb[1]+19,'font-size':56,'font-weight':'bold','text-anchor':'middle',fill:'#000'},g,m.label);
  
  
}
const coreLeft={N:[410,525],C1:[337,590],C2:[487,590],NL:[335,745],NR:[487,745],B:[410,822],FL:[368,945],FR:[455,945],
  pl:[[252,545],[203,660],[250,783]],pr:[[573,545],[622,665],[573,785]],
  tl:[[222,402],[140,355],[140,205],[222,163],[275,290]],tr:[[598,402],[682,355],[682,205],[600,163],[545,290]],
  bl:[[222,928],[137,955],[112,1100],[173,1208],[257,1178],[283,1040]],br:[[598,928],[685,955],[712,1100],[652,1208],[567,1178],[542,1038]],
  parity:[0,0,0,1]};
drawMolecule(Object.assign({},coreLeft,{name:'molecule-i',label:'(i)',color:'#1c1c1c',ox:0,sx:1.1615,labelAt:[405,1350],
  lines:[[173,1208,153,1300],[170,1395,205,1455],[55,1385,68,1378],[652,1208,672,1295],[655,1395,618,1455],[755,1380,768,1390]],
  texts:[['HN',120,1358],['+',178,1340,28],['NH',702,1360],['+',640,1345,28]]}));
drawMolecule(Object.assign({},coreLeft,{name:'molecule-ii',label:'(ii)',color:'#ff0f0f',ox:0,sx:1.1615,shift:[788,5],labelAt:[1198,1375],
  lines:[[960,1220,940,1310],[905,1375,840,1395],[955,1410,988,1477],[1445,1218,1462,1310],[1505,1375,1560,1393],[1447,1410,1412,1477]],
  texts:[['N',925,1365],['N',1470,1370]]}));
drawMolecule({name:'molecule-iii',label:'(iii)',color:'#ff0f0f',ox:1350,sx:1.1728,labelAt:[397,1380],
  N:[395,780],C1:[323,850],C2:[477,850],NL:[320,1005],NR:[475,1005],B:[397,1080],FL:[352,1205],FR:[442,1205],
  pl:[[237,805],[187,923],[237,1045]],pr:[[557,805],[610,925],[557,1045]],
  tl:[[212,660],[125,630],[97,490],[158,382],[242,408],[270,548]],tr:[[585,660],[670,632],[700,490],[640,382],[555,408],[528,548]],
  bl:[[212,1185],[125,1230],[125,1380],[210,1425],[260,1310]],br:[[585,1185],[670,1230],[670,1380],[585,1425],[535,1315]],
  parity:[1,0,0,0],
  lines:[[157,380,140,300],[100,225,40,207],[148,200,188,127],[640,380,660,300],[700,225,758,207],[648,200,605,130]],
  texts:[['N',125,245],['N',668,245]]});
drawMolecule({name:'molecule-iv',label:'(iv)',color:'#1c1c1c',ox:1350,sx:1.1728,labelAt:[1133,1395],
  N:[1143,810],C1:[1070,878],C2:[1218,878],NL:[1068,1030],NR:[1217,1030],B:[1142,1100],FL:[1100,1222],FR:[1185,1222],
  pl:[[988,830],[938,948],[988,1065]],pr:[[1298,830],[1348,950],[1298,1065]],
  tl:[[963,695],[875,665],[850,525],[908,422],[992,450],[1018,590]],tr:[[1323,695],[1410,665],[1435,525],[1378,422],[1295,450],[1268,590]],
  bl:[[963,1203],[878,1248],[878,1390],[963,1437],[1010,1320]],br:[[1323,1203],[1408,1248],[1408,1390],[1323,1437],[1272,1320]],
  parity:[1,0,0,0],
  lines:[[908,422,890,345],[858,275,797,255],[915,220,940,178],[1378,422,1392,345],[1435,275,1490,255],[1380,220,1345,180]],
  texts:[['N',880,290],['H',878,205],['+',915,285,28],['N',1403,290],['H',1403,205],['+',1365,288,28]]});
</script>
</body>
</html>
